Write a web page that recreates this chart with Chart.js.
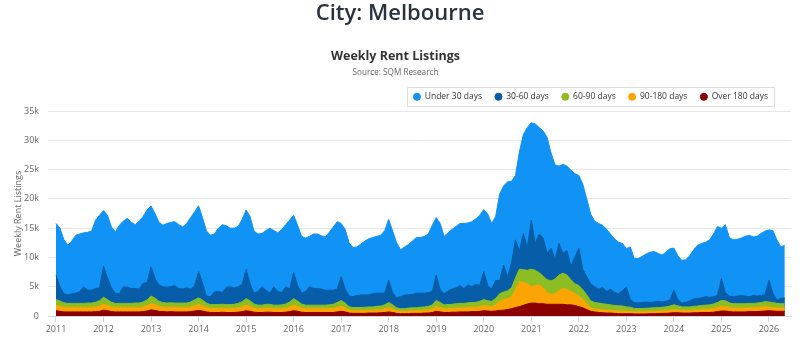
<!DOCTYPE html>
<html>
<head>
<meta charset="utf-8">
<script src="https://cdn.jsdelivr.net/npm/chart.js@4.4.1/dist/chart.umd.min.js"></script>
<style>
  html, body { margin: 0; padding: 0; background: #fff; }
  #wrap { position: relative; width: 800px; height: 341px; overflow: hidden; }
  #city { position: absolute; left: 0; top: 0; width: 800px; margin: 0; text-align: center;
          font: 600 22px/22px 'Open Sans', sans-serif; color: #283241; z-index: 2; }
  canvas { position: absolute; left: 0; top: 0; }
</style>
</head>
<body>
<div id="wrap">
  <h1 id="city">City: Melbourne</h1>
  <canvas id="c" width="800" height="341"></canvas>
</div>
<script>
// ---- data (thousands of listings), monthly from Jan 2011 ----
const startYear = 2011;
const seriesNames = ['Under 30 days', '30-60 days', '60-90 days', '90-180 days', 'Over 180 days'];
const seriesColors = ['#1192f5', '#075da7', '#8cbe23', '#fca404', '#8b0000'];
const xTickYears = [2011, 2012, 2013, 2014, 2015, 2016, 2017, 2018, 2019, 2020, 2021, 2022, 2023, 2024, 2025, 2026];
const yTickValues = [0, 5, 10, 15, 20, 25, 30, 35];

const under30 = [
  8.8, 10.0, 9.2, 8.5, 9.0, 9.9, 9.8, 9.2, 9.9, 10.1, 11.7, 12.4,
  9.5, 10.7, 10.4, 10.5, 11.7, 11.2, 11.8, 11.3, 10.9, 11.6, 11.4, 12.4,
  10.4, 11.1, 10.7, 10.5, 10.9, 11.0, 10.9, 10.9, 10.6, 11.0, 12.2, 12.6,
  11.2, 11.2, 11.1, 10.5, 9.9, 10.8, 11.6, 10.5, 10.0, 10.2, 10.3, 11.1,
  10.1, 11.5, 10.6, 9.8, 9.1, 10.2, 11.1, 9.6, 10.0, 10.8, 10.6, 11.8,
  9.8, 10.3, 9.7, 9.1, 8.6, 9.3, 9.3, 9.1, 9.1, 9.9, 10.8, 11.5,
  9.1, 10.2, 9.1, 8.4, 8.3, 8.7, 9.2, 9.6, 9.6, 9.7, 9.9, 10.7,
  10.4, 10.5, 9.4, 8.0, 8.2, 8.6, 9.1, 9.5, 9.5, 9.7, 10.0, 11.3,
  9.8, 11.3, 9.8, 9.9, 10.2, 10.5, 10.6, 11.1, 10.6, 11.1, 11.2, 12.0,
  10.6, 12.2, 11.2, 10.9, 14.8, 13.5, 16.2, 14.0, 11.0, 16.9, 16.9, 20.6,
  16.6, 20.4, 18.2, 18.3, 19.8, 16.2, 16.1, 13.2, 15.2, 14.4, 16.4, 14.3,
  12.4, 14.5, 13.3, 11.9, 11.2, 11.2, 10.6, 10.6, 9.4, 9.2, 8.8, 8.1,
  6.5, 9.0, 7.5, 7.6, 7.9, 8.2, 8.6, 8.6, 8.2, 8.0, 8.4, 8.8,
  7.2, 7.5, 7.3, 7.3, 7.7, 8.4, 9.1, 9.3, 9.3, 9.8, 10.7, 11.8,
  8.6, 11.6, 10.0, 9.7, 9.7, 9.8, 10.2, 10.5, 10.0, 10.2, 10.6, 10.9,
  8.6, 10.7, 10.3, 8.8, 9.0
];
const days30to60 = [
  4.2, 2.45, 1.55, 1.45, 1.65, 1.75, 2.05, 2.85, 2.2, 2.2, 2.35, 2.2,
  5.3, 3.7, 2.45, 1.75, 1.65, 2.85, 2.75, 2.55, 2.5, 2.4, 3.2, 2.95,
  5.0, 3.35, 2.8, 2.7, 2.7, 2.75, 3.0, 2.5, 2.4, 2.6, 2.2, 2.45,
  4.5, 2.9, 1.2, 1.35, 2.15, 2.25, 2.0, 2.95, 3.05, 2.8, 2.85, 2.95,
  5.05, 2.9, 1.85, 2.35, 3.15, 2.4, 1.9, 3.15, 2.35, 2.1, 2.95, 2.2,
  4.45, 2.65, 1.85, 2.35, 3.15, 2.85, 2.85, 2.75, 2.55, 2.5, 2.4, 2.3,
  4.05, 2.4, 1.8, 1.85, 2.05, 2.15, 2.1, 2.05, 2.25, 2.25, 2.2, 2.0,
  3.8, 2.1, 1.7, 2.05, 2.35, 2.25, 2.3, 2.5, 2.4, 2.35, 2.35, 2.3,
  4.35, 2.2, 1.9, 2.35, 2.6, 2.7, 3.05, 2.55, 3.05, 2.7, 3.05, 2.7,
  4.8, 2.6, 2.1, 3.1, 2.2, 4.6, 2.4, 4.2, 6.5, 3.1, 6.2, 3.8,
  8.4, 4.6, 6.6, 6.5, 4.5, 5.6, 3.4, 5.4, 3.4, 4.2, 2.3, 4.5,
  6.4, 3.5, 3.1, 2.9, 2.7, 2.4, 2.8, 2.2, 2.7, 2.2, 2.05, 2.6,
  3.45, 1.3, 1.02, 0.92, 1.02, 1.1, 0.95, 1.0, 1.08, 0.9, 0.95, 1.0,
  2.5, 1.05, 0.65, 0.75, 1.05, 1.25, 1.3, 1.3, 1.45, 1.3, 1.25, 1.2,
  3.75, 1.4, 1.15, 1.2, 1.3, 1.4, 1.3, 1.15, 1.35, 1.2, 1.2, 1.15,
  3.7, 1.6, 0.55, 0.9, 1.0
];
const days60to90 = [
  1.0, 0.9, 0.75, 0.7, 0.7, 0.7, 0.7, 0.7, 0.75, 0.75, 0.8, 0.95,
  1.2, 1.0, 0.8, 0.7, 0.7, 0.7, 0.7, 0.7, 0.75, 0.75, 0.85, 1.0,
  1.3, 1.1, 0.85, 0.75, 0.75, 0.75, 0.75, 0.75, 0.75, 0.75, 0.85, 1.0,
  1.15, 0.95, 0.75, 0.65, 0.65, 0.65, 0.65, 0.65, 0.65, 0.7, 0.75, 0.9,
  1.1, 0.95, 0.7, 0.6, 0.6, 0.65, 0.65, 0.6, 0.6, 0.65, 0.7, 0.85,
  1.1, 0.9, 0.7, 0.6, 0.6, 0.6, 0.6, 0.6, 0.6, 0.65, 0.7, 0.8,
  1.0, 0.8, 0.6, 0.55, 0.55, 0.55, 0.55, 0.55, 0.55, 0.6, 0.6, 0.7,
  0.85, 0.7, 0.5, 0.45, 0.45, 0.5, 0.5, 0.5, 0.55, 0.55, 0.6, 0.7,
  1.0, 0.85, 0.7, 0.7, 0.7, 0.75, 0.75, 0.75, 0.8, 0.8, 0.85, 0.9,
  1.0, 0.9, 0.9, 1.1, 1.3, 1.3, 1.3, 1.5, 2.0, 2.1, 2.2, 2.3,
  3.0, 2.6, 2.1, 2.0, 2.2, 2.3, 2.5, 2.7, 2.6, 2.5, 2.0, 1.7,
  1.8, 1.6, 1.4, 1.2, 1.1, 1.1, 1.05, 1.0, 0.95, 0.9, 0.9, 0.9,
  0.75, 0.7, 0.55, 0.55, 0.55, 0.55, 0.55, 0.6, 0.6, 0.6, 0.65, 0.7,
  0.8, 0.7, 0.6, 0.6, 0.6, 0.6, 0.65, 0.65, 0.7, 0.7, 0.75, 0.85,
  1.0, 0.95, 0.8, 0.75, 0.75, 0.75, 0.75, 0.75, 0.75, 0.75, 0.8, 0.85,
  0.9, 0.85, 0.8, 0.75, 0.75
];
const days90to180 = [
  0.9, 0.85, 0.8, 0.75, 0.75, 0.75, 0.75, 0.75, 0.75, 0.75, 0.8, 0.85,
  1.0, 0.9, 0.8, 0.75, 0.75, 0.75, 0.75, 0.75, 0.75, 0.75, 0.8, 0.9,
  1.05, 1.0, 0.85, 0.8, 0.75, 0.75, 0.75, 0.75, 0.75, 0.75, 0.8, 0.9,
  1.0, 0.9, 0.75, 0.7, 0.7, 0.7, 0.7, 0.7, 0.7, 0.7, 0.75, 0.8,
  0.95, 0.85, 0.7, 0.65, 0.65, 0.7, 0.7, 0.65, 0.65, 0.65, 0.7, 0.8,
  0.95, 0.85, 0.7, 0.65, 0.65, 0.65, 0.65, 0.65, 0.65, 0.65, 0.7, 0.8,
  0.85, 0.7, 0.5, 0.45, 0.45, 0.45, 0.5, 0.5, 0.5, 0.55, 0.55, 0.6,
  0.75, 0.6, 0.45, 0.4, 0.4, 0.45, 0.45, 0.45, 0.5, 0.5, 0.55, 0.6,
  0.85, 0.75, 0.6, 0.65, 0.65, 0.7, 0.7, 0.7, 0.75, 0.75, 0.75, 0.8,
  0.9, 0.85, 0.8, 1.05, 1.55, 1.8, 1.9, 2.05, 3.05, 4.3, 3.85, 3.45,
  2.8, 3.0, 3.2, 2.7, 2.0, 1.7, 1.8, 2.3, 2.7, 2.6, 2.3, 2.0,
  1.8, 1.5, 1.1, 0.6, 0.5, 0.5, 0.5, 0.5, 0.45, 0.45, 0.45, 0.4,
  0.4, 0.4, 0.38, 0.38, 0.38, 0.4, 0.4, 0.4, 0.42, 0.45, 0.45, 0.5,
  0.55, 0.5, 0.45, 0.45, 0.45, 0.5, 0.5, 0.55, 0.55, 0.6, 0.65, 0.7,
  0.8, 0.8, 0.7, 0.65, 0.65, 0.65, 0.65, 0.65, 0.65, 0.7, 0.7, 0.75,
  0.6, 0.6, 0.55, 0.55, 0.55
];
const over180 = [
  0.9, 0.8, 0.7, 0.7, 0.7, 0.7, 0.7, 0.7, 0.7, 0.7, 0.75, 0.8,
  1.0, 0.9, 0.75, 0.7, 0.7, 0.7, 0.7, 0.7, 0.7, 0.7, 0.75, 0.85,
  1.05, 0.95, 0.8, 0.75, 0.7, 0.75, 0.7, 0.7, 0.7, 0.7, 0.75, 0.85,
  0.95, 0.85, 0.7, 0.6, 0.6, 0.6, 0.65, 0.6, 0.6, 0.6, 0.65, 0.75,
  0.9, 0.8, 0.65, 0.6, 0.6, 0.65, 0.65, 0.6, 0.6, 0.6, 0.65, 0.75,
  0.9, 0.8, 0.65, 0.6, 0.6, 0.6, 0.6, 0.6, 0.6, 0.6, 0.6, 0.7,
  0.8, 0.7, 0.5, 0.45, 0.45, 0.45, 0.45, 0.5, 0.5, 0.5, 0.55, 0.6,
  0.7, 0.6, 0.45, 0.4, 0.4, 0.4, 0.45, 0.45, 0.45, 0.5, 0.5, 0.6,
  0.8, 0.7, 0.6, 0.6, 0.65, 0.65, 0.7, 0.7, 0.7, 0.75, 0.75, 0.8,
  0.9, 0.85, 0.8, 0.85, 0.95, 1.0, 1.1, 1.25, 1.45, 1.6, 1.85, 2.05,
  2.2, 2.2, 2.1, 2.1, 2.0, 2.0, 2.0, 2.0, 2.0, 1.9, 1.9, 1.8,
  1.6, 1.4, 1.1, 0.8, 0.7, 0.6, 0.55, 0.5, 0.5, 0.45, 0.4, 0.4,
  0.4, 0.4, 0.35, 0.35, 0.35, 0.35, 0.4, 0.4, 0.4, 0.45, 0.45, 0.5,
  0.55, 0.55, 0.5, 0.5, 0.5, 0.55, 0.55, 0.6, 0.6, 0.6, 0.65, 0.75,
  0.85, 0.85, 0.75, 0.7, 0.7, 0.7, 0.7, 0.75, 0.75, 0.75, 0.8, 0.85,
  0.9, 0.85, 0.8, 0.8, 0.8
];

// ---- build chart ----
const FONT = "'Open Sans', sans-serif";
const seriesValues = [under30, days30to60, days60to90, days90to180, over180];
const monthX = under30.map((_, i) => startYear + i / 12);

const datasets = seriesNames.map((name, k) => ({
  label: name,
  data: seriesValues[k].map((v, i) => ({ x: monthX[i], y: v })),
  backgroundColor: seriesColors[k],
  borderColor: seriesColors[k],
  borderWidth: 1,
  pointRadius: 0,
  pointHoverRadius: 0,
  fill: 'origin',
  tension: 0,
  order: seriesNames.length - k   // bottom of stack = Over 180 days
}));

const legendFrame = {
  id: 'legendFrame',
  afterLayout(chart) {
    const lg = chart.legend;
    if (lg) { lg.right = chart.chartArea.right - 10; }
  },
  afterDraw(chart) {
    const lg = chart.legend;
    if (!lg || !lg.lineWidths) return;
    const pad = lg.options.labels.padding;
    const fs = lg.options.labels.font.size;
    const left = lg.right - lg.lineWidths[0] - 6;
    const right = lg.right - pad + 6;
    const cy = lg.top + pad + fs / 2;
    const ctx = chart.ctx;
    ctx.save();
    ctx.strokeStyle = '#dcdcdc';
    ctx.lineWidth = 1;
    ctx.strokeRect(Math.round(left) + 0.5, Math.round(cy - 9.5) + 0.5, Math.round(right - left), 19);
    ctx.restore();
  }
};

new Chart(document.getElementById('c'), {
  type: 'line',
  data: { datasets },
  plugins: [legendFrame],
  options: {
    responsive: false,
    animation: false,
    devicePixelRatio: 1,
    layout: { padding: { top: 0, left: 0, right: 9, bottom: 0 } },
    interaction: { mode: 'nearest', intersect: false },
    plugins: {
      title: {
        display: true, text: 'Weekly Rent Listings', color: '#333',
        font: { family: FONT, size: 12.5, weight: 'bold' },
        padding: { top: 48.5, bottom: 1.5 }
      },
      subtitle: {
        display: true, text: 'Source: SQM Research', color: '#666',
        font: { family: FONT, size: 8.2 },
        padding: { top: 3, bottom: 1.7 }
      },
      legend: {
        display: true, position: 'top', align: 'end',
        labels: {
          usePointStyle: true, pointStyle: 'circle', boxWidth: 7, boxHeight: 5,
          padding: 13, color: '#333', font: { family: FONT, size: 8.5 },
          sort: (a, b) => a.datasetIndex - b.datasetIndex
        }
      },
      tooltip: { enabled: false }
    },
    scales: {
      x: {
        type: 'linear', min: 2010.832, max: 2026.464,
        afterBuildTicks: s => { s.ticks = xTickYears.map(v => ({ value: v })); },
        afterFit: s => { s.height = 25; },
        ticks: { callback: v => String(v), color: '#666', font: { family: FONT, size: 9 },
                 padding: 2, maxRotation: 0, autoSkip: false },
        grid: { display: true, drawOnChartArea: false, drawTicks: true, tickLength: 6, color: '#ccd6eb' },
        border: { display: true, color: '#ccd6eb' }
      },
      y: {
        stacked: true, min: 0, max: 35,
        afterBuildTicks: s => { s.ticks = yTickValues.map(v => ({ value: v })); },
        afterFit: s => { s.width = 48; },
        ticks: { callback: v => (v === 0 ? '0' : v + 'k'), color: '#666',
                 font: { family: FONT, size: 9 }, padding: 9 },
        grid: { color: '#e6e6e6', drawTicks: false },
        border: { display: false },
        title: { display: true, text: 'Weekly Rent Listings', color: '#666',
                 font: { family: FONT, size: 9 }, padding: { top: 13.5, bottom: 0 } }
      }
    }
  }
});
</script>
</body>
</html>
